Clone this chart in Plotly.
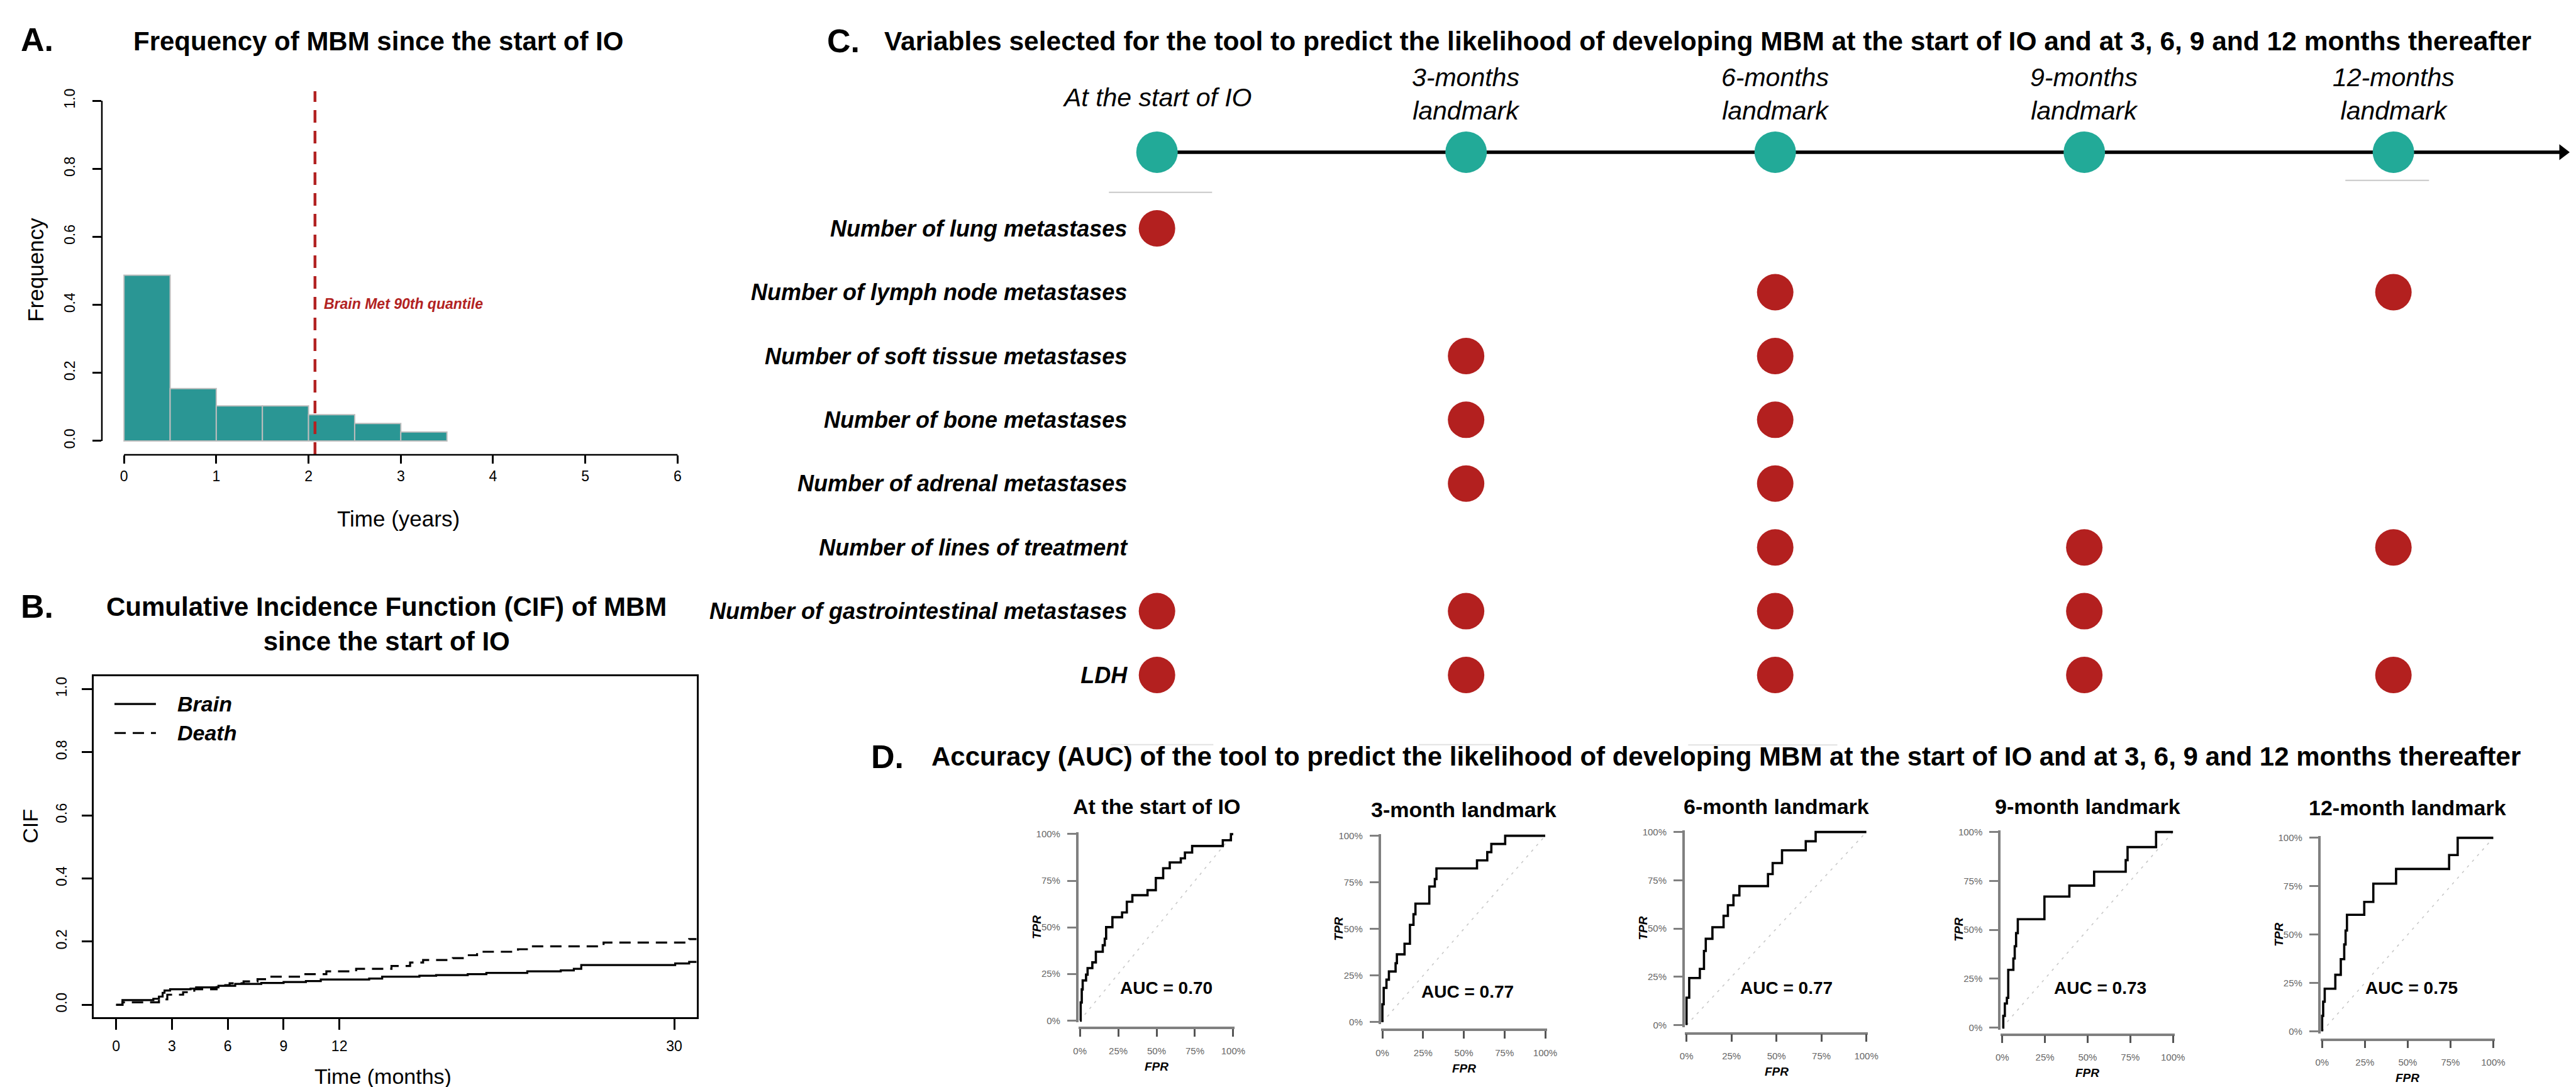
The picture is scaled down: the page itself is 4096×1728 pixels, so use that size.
import plotly.graph_objects as go

# ======================= DATA =======================
# Panel A - histogram of time from start of IO to MBM (years)
hist_bin_edges = [0.0, 0.5, 1.0, 1.5, 2.0, 2.5, 3.0, 3.5]
hist_frequency = [0.487, 0.154, 0.103, 0.103, 0.077, 0.051, 0.026]
brain_met_q90_years = 2.07
hist_x_ticks = [0, 1, 2, 3, 4, 5, 6]
hist_y_ticks = [0.0, 0.2, 0.4, 0.6, 0.8, 1.0]

# Panel B - cumulative incidence functions (months)
cif_brain_months = [0, 0.34, 2.0, 2.3, 2.5, 2.6, 2.9, 4.0, 4.3, 5.5, 6.4, 7.8, 9.0, 10.2, 11.0,
                    13.6, 14.3, 16.3, 17.2, 18.9, 19.9, 22.1, 23.9, 24.6, 25.0, 30.05, 30.8, 31.2]
cif_brain_value = [0, 0.015, 0.019, 0.026, 0.038, 0.045, 0.049, 0.051, 0.055, 0.060, 0.066, 0.069,
                   0.072, 0.075, 0.080, 0.083, 0.089, 0.092, 0.094, 0.097, 0.101, 0.106, 0.109,
                   0.114, 0.126, 0.131, 0.136, 0.136]
cif_death_months = [0, 0.34, 2.3, 2.55, 2.75, 3.6, 4.2, 5.4, 5.65, 6.1, 6.85, 7.6, 8.2, 9.9, 11.3,
                    12.9, 14.8, 15.8, 16.5, 18.1, 18.8, 19.4, 21.6, 22.3, 26.2, 30.8, 31.2]
cif_death_value = [0, 0.008, 0.0125, 0.017, 0.032, 0.040, 0.049, 0.056, 0.062, 0.068, 0.074, 0.081,
                   0.089, 0.097, 0.106, 0.114, 0.123, 0.134, 0.142, 0.148, 0.157, 0.168, 0.176,
                   0.185, 0.197, 0.208, 0.208]
cif_x_ticks = [0, 3, 6, 9, 12, 30]
cif_y_ticks = [0.0, 0.2, 0.4, 0.6, 0.8, 1.0]

# Panel C - variables selected at each landmark
landmarks = ["At the start of IO", "3-months<br>landmark", "6-months<br>landmark",
             "9-months<br>landmark", "12-months<br>landmark"]
variables = ["Number of lung metastases", "Number of lymph node metastases",
             "Number of soft tissue metastases", "Number of bone metastases",
             "Number of adrenal metastases", "Number of lines of treatment",
             "Number of gastrointestinal metastases", "LDH"]
variable_selected = [
    [1, 0, 0, 0, 0],
    [0, 0, 1, 0, 1],
    [0, 1, 1, 0, 0],
    [0, 1, 1, 0, 0],
    [0, 1, 1, 0, 0],
    [0, 0, 1, 1, 1],
    [1, 1, 1, 1, 0],
    [1, 1, 1, 1, 1],
]

# Panel D - ROC curves (percent)
roc_titles = ["At the start of IO", "3-month landmark", "6-month landmark",
              "9-month landmark", "12-month landmark"]
roc_auc = [0.70, 0.77, 0.77, 0.73, 0.75]
roc_fpr_start = [0, 0.5, 1.2, 1.8, 4.0, 5.0, 8.1, 10.4, 14.9, 16.2, 17.1, 21.2, 27.5, 30.6, 34.2,
                 44.1, 49.5, 54.3, 58.6, 65.8, 68.5, 73.2, 93.2, 98.5, 100]
roc_tpr_start = [0, 9.7, 16.7, 21.5, 24.6, 28.1, 31.2, 36.9, 40.4, 43.9, 50.1, 55.4, 58.0, 63.7,
                 67.2, 69.9, 76.4, 81.7, 84.8, 87.0, 90.1, 93.6, 96.7, 100, 100]
roc_fpr_3m = [0, 0, 0.8, 2.5, 4.0, 8.1, 8.9, 13.6, 16.9, 19.1, 20.3, 28.8, 32.2, 33.2, 58.1, 64.4,
              66.9, 75.4, 100]
roc_tpr_3m = [0, 9.6, 18.4, 22.8, 27.2, 31.6, 36.4, 42.1, 52.2, 57.9, 63.6, 72.8, 76.8, 82.5, 86.8,
              91.2, 95.6, 100, 100]
roc_fpr_6m = [0, 0, 1.5, 7.4, 9.7, 10.7, 14.4, 20.6, 23.0, 26.1, 29.4, 45.3, 47.9, 53.1, 66.3, 71.8, 100]
roc_tpr_6m = [0, 14.2, 24.4, 29.1, 38.4, 44.7, 50.7, 56.6, 62.1, 67.2, 72.0, 78.2, 83.9, 90.5, 95.2,
              100, 100]
roc_fpr_9m = [0, 0.6, 1.5, 2.7, 3.5, 6.5, 7.3, 8.1, 9.1, 24.7, 39.3, 53.8, 72.3, 73.4, 90.1, 100]
roc_tpr_9m = [0, 6.0, 12.3, 15.2, 29.5, 35.3, 41.6, 48.3, 55.4, 67.0, 72.6, 79.7, 85.6, 92.3, 100, 100]
roc_fpr_12m = [0, 0, 0.6, 1.5, 7.7, 10.9, 12.9, 13.7, 14.5, 24.6, 29.9, 43.2, 74.2, 79.2, 100]
roc_tpr_12m = [0, 8.0, 15.3, 22.0, 29.2, 37.3, 44.9, 52.1, 60.2, 66.9, 76.3, 83.9, 91.1, 100, 100]
roc_ticks = [0, 25, 50, 75, 100]
roc_tick_text = ["0%", "25%", "50%", "75%", "100%"]

# ======================= LAYOUT HELPERS =======================
REF_W, REF_H = 6179, 2607
OUT_W, OUT_H = 4096, 1728


def PX(fx):
    return fx / REF_W


def PY(fy):
    return 1 - fy / REF_H


def lin(v, v0, p0, v1, p1):
    return p0 + (v - v0) * (p1 - p0) / (v1 - v0)


def xdom(rng, v0, p0, v1, p1):
    a, b = (lin(r, v0, p0, v1, p1) / REF_W for r in rng)
    return [max(0.0, min(a, b)), min(1.0, max(a, b))]


def ydom(rng, v0, p0, v1, p1):
    a, b = (1 - lin(r, v0, p0, v1, p1) / REF_H for r in rng)
    return [max(0.0, min(a, b)), min(1.0, max(a, b))]


FONT = "Liberation Sans, Arial, Helvetica, sans-serif"
TEAL_BAR = "#2A9694"
TEAL_DOT = "#22AA98"
RED = "#B22222"
RED_DOT = "#B3201F"
GREY_AX = "#808080"


def fnt(size, color="#000000", weight="normal", style="normal"):
    return dict(family=FONT, size=size, color=color, weight=weight, style=style)


BASE_AX = dict(showgrid=False, zeroline=False, showline=False, ticks="", fixedrange=True)

fig = go.Figure()
annotations = []
shapes = []
layout_axes = {}

# ======================= PANEL A =======================
A_XR = [-0.24, 6.24]
A_YR = [-0.041, 1.04]
A_XMAP = (0, 275, 6, 1611)
A_YMAP = (0, 1043, 1, 222)
layout_axes["xaxis"] = dict(BASE_AX, domain=xdom(A_XR, *A_XMAP), range=A_XR, anchor="y",
                            ticks="outside", ticklen=13, tickwidth=2.5, tickcolor="#000",
                            tickvals=hist_x_ticks, tickfont=fnt(23), ticklabelstandoff=0)
layout_axes["yaxis"] = dict(BASE_AX, domain=ydom(A_YR, *A_YMAP), range=A_YR, anchor="x",
                            ticks="outside", ticklen=14, tickwidth=2.5, tickcolor="#000",
                            tickvals=hist_y_ticks, ticktext=[f"{v:.1f}" for v in hist_y_ticks],
                            tickangle=-90, tickfont=fnt(23), ticklabelstandoff=19)
centers = [(a + b) / 2 for a, b in zip(hist_bin_edges[:-1], hist_bin_edges[1:])]
widths = [b - a for a, b in zip(hist_bin_edges[:-1], hist_bin_edges[1:])]
fig.add_trace(go.Bar(x=centers, y=hist_frequency, width=widths, xaxis="x", yaxis="y",
                     marker=dict(color=TEAL_BAR, line=dict(color="#BDBDBD", width=2)),
                     showlegend=False, hoverinfo="skip"))
Q90_TOP = 1.028
fig.add_trace(go.Scatter(x=[brain_met_q90_years, brain_met_q90_years], y=[A_YR[0], Q90_TOP],
                         mode="lines", xaxis="x", yaxis="y", showlegend=False, hoverinfo="skip",
                         line=dict(color=RED, width=4.5, dash="20px,13px")))
# R-style axis lines (span only the tick range)
shapes.append(dict(type="line", xref="x", yref="y domain", x0=hist_x_ticks[0], x1=hist_x_ticks[-1],
                   y0=0, y1=0, line=dict(color="#000", width=2.5)))
shapes.append(dict(type="line", xref="x domain", yref="y", x0=0, x1=0, y0=hist_y_ticks[0],
                   y1=hist_y_ticks[-1], line=dict(color="#000", width=2.5)))
annotations.append(dict(xref="x", yref="y", x=2.15, y=0.403, xanchor="left", yanchor="middle",
                        text="Brain Met 90th quantile", showarrow=False,
                        font=fnt(23, RED, "bold", "italic")))
annotations.append(dict(xref="paper", yref="paper", x=PX(65), y=PY(74), text="A.", showarrow=False,
                        xanchor="center", yanchor="middle", font=fnt(52, weight="bold")))
annotations.append(dict(xref="paper", yref="paper", x=PX(888), y=PY(78), showarrow=False,
                        text="Frequency of MBM since the start of IO", xanchor="center",
                        yanchor="middle", font=fnt(42, weight="bold")))
annotations.append(dict(xref="paper", yref="paper", x=PX(62), y=PY(630), showarrow=False,
                        text="Frequency", textangle=-90, xanchor="center", yanchor="middle",
                        font=fnt(35)))
annotations.append(dict(xref="paper", yref="paper", x=PX(938), y=PY(1230), showarrow=False,
                        text="Time (years)", xanchor="center", yanchor="middle", font=fnt(35)))

# ======================= PANEL B =======================
B_XR = [-1.2, 31.2]
B_YR = [-0.04, 1.04]
B_XMAP = (0, 256, 30, 1603)
B_YMAP = (0, 2404, 1, 1642)
layout_axes["xaxis2"] = dict(BASE_AX, domain=xdom(B_XR, *B_XMAP), range=B_XR, anchor="y2",
                             showline=True, mirror=True, linecolor="#000", linewidth=2.5,
                             ticks="outside", ticklen=17, tickwidth=2.5, tickcolor="#000",
                             tickvals=cif_x_ticks, tickfont=fnt(23), ticklabelstandoff=6)
layout_axes["yaxis2"] = dict(BASE_AX, domain=ydom(B_YR, *B_YMAP), range=B_YR, anchor="x2",
                             showline=True, mirror=True, linecolor="#000", linewidth=2.5,
                             ticks="outside", ticklen=16, tickwidth=2.5, tickcolor="#000",
                             tickvals=cif_y_ticks, ticktext=[f"{v:.1f}" for v in cif_y_ticks],
                             tickangle=-90, tickfont=fnt(23), ticklabelstandoff=15)
fig.add_trace(go.Scatter(x=cif_brain_months, y=cif_brain_value, mode="lines", xaxis="x2", yaxis="y2",
                         line=dict(color="#000", width=3.2, shape="hv"), name="Brain",
                         showlegend=False, hoverinfo="skip"))
fig.add_trace(go.Scatter(x=cif_death_months, y=cif_death_value, mode="lines", xaxis="x2", yaxis="y2",
                         line=dict(color="#000", width=3.2, shape="hv", dash="18px,11px"),
                         name="Death", showlegend=False, hoverinfo="skip"))
# legend (drawn manually, R-style)
for lbl, ly, dash in [("Brain", 1678, "solid"), ("Death", 1748, "18px,11px")]:
    shapes.append(dict(type="line", xref="paper", yref="paper", x0=PX(252), x1=PX(352),
                       y0=PY(ly), y1=PY(ly), line=dict(color="#000", width=3.2, dash=dash)))
    annotations.append(dict(xref="paper", yref="paper", x=PX(400), y=PY(ly), text=lbl,
                            showarrow=False, xanchor="left", yanchor="middle",
                            font=fnt(34, weight="bold", style="italic")))
annotations.append(dict(xref="paper", yref="paper", x=PX(65), y=PY(1443), text="B.", showarrow=False,
                        xanchor="center", yanchor="middle", font=fnt(52, weight="bold")))
annotations.append(dict(xref="paper", yref="paper", x=PX(909), y=PY(1485), showarrow=False,
                        text="Cumulative Incidence Function (CIF) of MBM<br>since the start of IO",
                        xanchor="center", yanchor="middle", font=fnt(42, weight="bold")))
annotations.append(dict(xref="paper", yref="paper", x=PX(49), y=PY(1973), showarrow=False,
                        text="CIF", textangle=-90, xanchor="center", yanchor="middle", font=fnt(34)))
annotations.append(dict(xref="paper", yref="paper", x=PX(900), y=PY(2576), showarrow=False,
                        text="Time (months)", xanchor="center", yanchor="middle", font=fnt(34)))

# ======================= PANEL C =======================
C_XR = [-0.2, 4.57]
C_XMAP = (0, 2768, 4, 5752)
C_YR = [7.5, -1.7]
C_YMAP = (0, 530, 7, 1608)
TIMELINE_Y = lin(346, 530, 0, 1608, 7)
layout_axes["xaxis3"] = dict(BASE_AX, domain=xdom(C_XR, *C_XMAP), range=C_XR, anchor="y3",
                             visible=False)
layout_axes["yaxis3"] = dict(BASE_AX, domain=ydom(C_YR, *C_YMAP), range=C_YR, anchor="free",
                             position=PX(2696), tickvals=list(range(len(variables))),
                             ticktext=variables, tickfont=fnt(36, weight="bold", style="italic"),
                             ticklabelstandoff=0)
TL_END = 4.548
fig.add_trace(go.Scatter(x=[0, TL_END], y=[TIMELINE_Y, TIMELINE_Y], mode="lines", xaxis="x3",
                         yaxis="y3", line=dict(color="#000", width=5.5), showlegend=False,
                         hoverinfo="skip"))
fig.add_trace(go.Scatter(x=[TL_END], y=[TIMELINE_Y], mode="markers", xaxis="x3", yaxis="y3",
                         marker=dict(symbol="triangle-right", size=22, color="#000"),
                         showlegend=False, hoverinfo="skip", cliponaxis=False))
fig.add_trace(go.Scatter(x=list(range(len(landmarks))), y=[TIMELINE_Y] * len(landmarks),
                         mode="markers", xaxis="x3", yaxis="y3", cliponaxis=False,
                         marker=dict(size=66, color=TEAL_DOT, line=dict(width=0)),
                         showlegend=False, hoverinfo="skip"))
dot_x, dot_y = [], []
for r, row in enumerate(variable_selected):
    for c, s in enumerate(row):
        if s:
            dot_x.append(c)
            dot_y.append(r)
fig.add_trace(go.Scatter(x=dot_x, y=dot_y, mode="markers", xaxis="x3", yaxis="y3", cliponaxis=False,
                         marker=dict(size=58, color=RED_DOT, line=dict(width=0)),
                         showlegend=False, hoverinfo="skip"))
for i, lm in enumerate(landmarks):
    annotations.append(dict(xref="x3", yref="paper", x=i, y=PY(206 if "<br>" in lm else 214),
                            text=lm, showarrow=False, xanchor="center", yanchor="middle",
                            font=fnt(41, style="italic")))
annotations.append(dict(xref="paper", yref="paper", x=PX(2011), y=PY(78), text="C.", showarrow=False,
                        xanchor="center", yanchor="middle", font=fnt(52, weight="bold")))
annotations.append(dict(xref="paper", yref="paper", x=PX(4098), y=PY(78), showarrow=False,
                        text="Variables selected for the tool to predict the likelihood of developing "
                             "MBM at the start of IO and at 3, 6, 9 and 12 months thereafter",
                        xanchor="center", yanchor="middle", font=fnt(42.5, weight="bold")))
for (x0, x1, yy) in [(2652, 2901, 443), (5636, 5838, 414)]:
    shapes.append(dict(type="line", xref="paper", yref="paper", x0=PX(x0), x1=PX(x1),
                       y0=PY(yy), y1=PY(yy), line=dict(color="#C8C8C8", width=2)))

# ======================= PANEL D =======================
roc_fpr = [roc_fpr_start, roc_fpr_3m, roc_fpr_6m, roc_fpr_9m, roc_fpr_12m]
roc_tpr = [roc_tpr_start, roc_tpr_3m, roc_tpr_6m, roc_tpr_9m, roc_tpr_12m]
# plot boxes in reference px: x at 0%, x at 100%, y at 0%, y at 100%, x-axis line y, title y, AUC x,y
roc_boxes = [
    dict(x0=2582, x1=2952, y0=2442, y1=1992, xl=2460, ty=1925, ax=2790, ay=2363),
    dict(x0=3312, x1=3705, y0=2446, y1=1996, xl=2464, ty=1933, ax=3517, ay=2373),
    dict(x0=4046, x1=4480, y0=2453, y1=1987, xl=2473, ty=1925, ax=4287, ay=2363),
    dict(x0=4808, x1=5220, y0=2459, y1=1987, xl=2476, ty=1925, ax=5045, ay=2363),
    dict(x0=5580, x1=5993, y0=2468, y1=2001, xl=2488, ty=1928, ax=5795, ay=2363),
]
R_RNG = [-1, 101]
for k in range(5):
    bx = roc_boxes[k]
    xa, ya = f"x{4 + k}", f"y{4 + k}"
    layout_axes[f"xaxis{4 + k}"] = dict(BASE_AX, domain=xdom(R_RNG, 0, bx["x0"], 100, bx["x1"]),
                                        range=R_RNG, anchor="free", position=PY(bx["xl"]),
                                        showline=True, linecolor=GREY_AX, linewidth=3.5,
                                        ticks="outside", ticklen=12, tickwidth=2.5, tickcolor="#555",
                                        tickvals=roc_ticks, ticktext=roc_tick_text,
                                        tickfont=fnt(15, "#666"), ticklabelstandoff=10)
    layout_axes[f"yaxis{4 + k}"] = dict(BASE_AX, domain=ydom(R_RNG, 0, bx["y0"], 100, bx["y1"]),
                                        range=R_RNG, anchor=xa,
                                        showline=True, linecolor=GREY_AX, linewidth=3.5,
                                        ticks="outside", ticklen=14, tickwidth=2.5, tickcolor=GREY_AX,
                                        tickvals=roc_ticks, ticktext=roc_tick_text,
                                        tickfont=fnt(15, "#666"), ticklabelstandoff=8)
    fig.add_trace(go.Scatter(x=[0, 100], y=[0, 100], mode="lines", xaxis=xa, yaxis=ya,
                             line=dict(color="#C8C8C8", width=1.6, dash="4px,8px"),
                             showlegend=False, hoverinfo="skip"))
    fig.add_trace(go.Scatter(x=roc_fpr[k], y=roc_tpr[k], mode="lines", xaxis=xa, yaxis=ya,
                             line=dict(color="#000", width=3.6, shape="hv"),
                             showlegend=False, hoverinfo="skip"))
    cx = (bx["x0"] + bx["x1"]) / 2
    annotations.append(dict(xref="paper", yref="paper", x=PX(cx), y=PY(bx["ty"]), text=roc_titles[k],
                            showarrow=False, xanchor="center", yanchor="middle",
                            font=fnt(34, weight="bold")))
    annotations.append(dict(xref="paper", yref="paper", x=PX(bx["ax"]), y=PY(bx["ay"]),
                            text=f"AUC = {roc_auc[k]:.2f}", showarrow=False, xanchor="center",
                            yanchor="middle", bgcolor="#FFFFFF", font=fnt(28, weight="bold")))
    annotations.append(dict(xref="paper", yref="paper", x=PX(bx["x0"] - 105),
                            y=PY((bx["y0"] + bx["y1"]) / 2), text="TPR", textangle=-90,
                            showarrow=False, xanchor="center", yanchor="middle",
                            font=fnt(19, weight="bold", style="italic")))
    annotations.append(dict(xref="paper", yref="paper", x=PX(cx), y=PY(bx["xl"] + 93), text="FPR",
                            showarrow=False, xanchor="center", yanchor="middle",
                            font=fnt(19, weight="bold", style="italic")))
annotations.append(dict(xref="paper", yref="paper", x=PX(2117), y=PY(1805), text="D.", showarrow=False,
                        xanchor="center", yanchor="middle", font=fnt(52, weight="bold")))
annotations.append(dict(xref="paper", yref="paper", x=PX(4142), y=PY(1805), showarrow=False,
                        text="Accuracy (AUC) of the tool to predict the likelihood of developing MBM "
                             "at the start of IO and at 3, 6, 9 and 12 months thereafter",
                        xanchor="center", yanchor="middle", font=fnt(42, weight="bold")))
for (x0, x1, yy) in [(2656, 2904, 1776), (3400, 3600, 1776), (4050, 4410, 1777)]:
    shapes.append(dict(type="line", xref="paper", yref="paper", x0=PX(x0), x1=PX(x1),
                       y0=PY(yy), y1=PY(yy), line=dict(color="#E2E2E2", width=2)))

fig.update_layout(
    width=OUT_W, height=OUT_H, margin=dict(l=0, r=0, t=0, b=0, pad=0),
    paper_bgcolor="#FFFFFF", plot_bgcolor="rgba(0,0,0,0)",
    font=fnt(20), showlegend=False,
    annotations=annotations, shapes=shapes, **layout_axes,
)
fig.write_html("out.html")
